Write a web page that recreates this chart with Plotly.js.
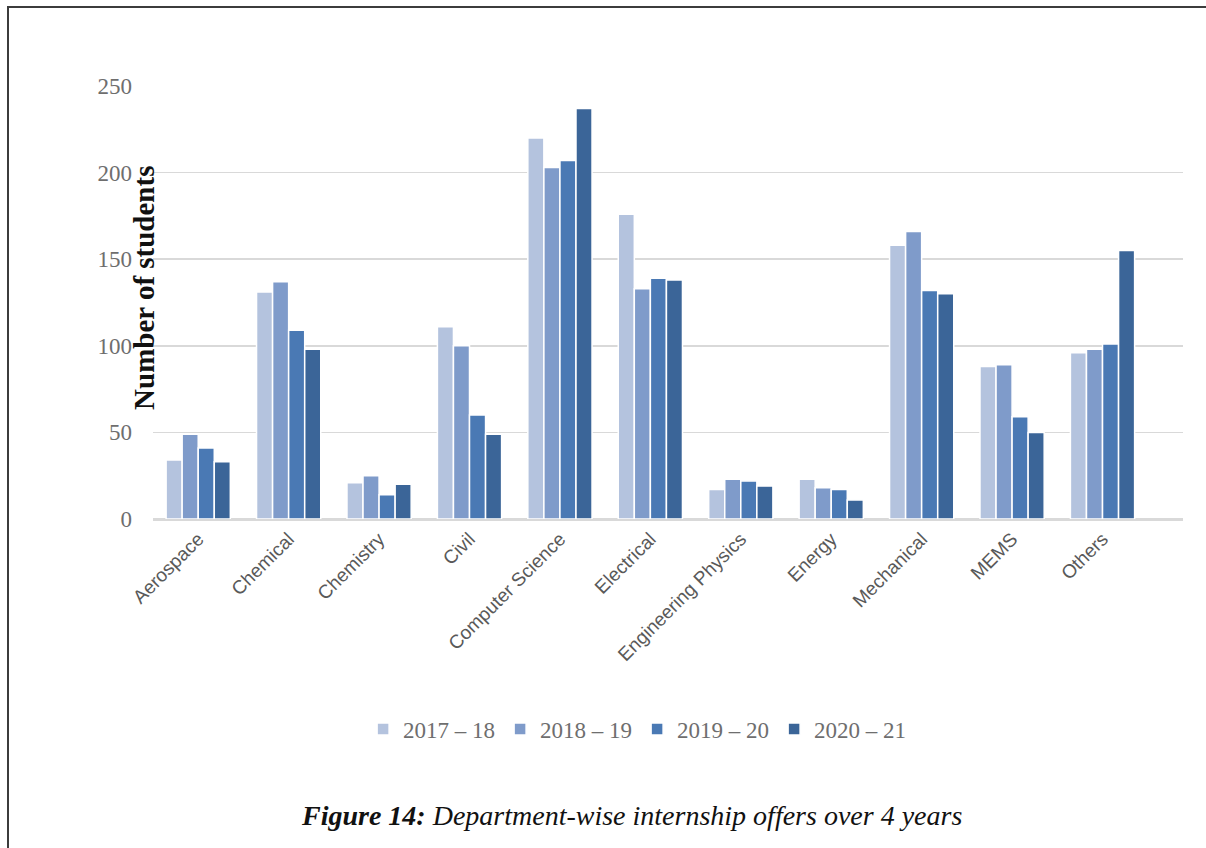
<!DOCTYPE html>
<html>
<head>
<meta charset="utf-8">
<script src="https://cdn.plot.ly/plotly-3.0.1.min.js"></script>
<style>
  html, body { margin: 0; padding: 0; background: #fff; }
  #wrap { position: relative; width: 1206px; height: 848px; }
  #chart { width: 1206px; height: 848px; }
  #frame { position: absolute; left: 7px; top: 6px; right: 0; bottom: 0;
           border-left: 2px solid #3c3c3c; border-top: 2px solid #3c3c3c; pointer-events: none; }
</style>
</head>
<body>
<div id="wrap">
  <div id="chart"></div>
  <div id="frame"></div>
</div>
<script>
const departments = ["Aerospace", "Chemical", "Chemistry", "Civil", "Computer Science",
  "Electrical", "Engineering Physics", "Energy", "Mechanical", "MEMS", "Others"];
const seriesNames = ["2017 – 18", "2018 – 19", "2019 – 20", "2020 – 21"];
const y2017 = [34, 131, 21, 111, 220, 176, 17, 23, 158, 88, 96];
const y2018 = [49, 137, 25, 100, 203, 133, 23, 18, 166, 89, 98];
const y2019 = [41, 109, 14, 60, 207, 139, 22, 17, 132, 59, 101];
const y2020 = [33, 98, 20, 49, 237, 138, 19, 11, 130, 50, 155];
const colors = ["#b4c3de", "#7f9bca", "#4a79b4", "#3b6598"];
const yTicks = [0, 50, 100, 150, 200, 250];

const allSeries = [y2017, y2018, y2019, y2020];
const traces = allSeries.map((vals, i) => ({
  type: "bar",
  name: seriesNames[i],
  x: departments,
  y: vals,
  marker: { color: colors[i], line: { color: "#ffffff", width: 1.5 } },
  hoverinfo: "x+y+name"
}));

const layout = {
  width: 1206, height: 848,
  margin: { l: 153, r: 23, t: 86, b: 329 },
  paper_bgcolor: "#ffffff", plot_bgcolor: "#ffffff",
  barmode: "group",
  bargap: 0.29,
  bargroupgap: 0,
  showlegend: true,
  legend: {
    orientation: "h", x: 0.47, xanchor: "center", y: -0.485, yanchor: "middle",
    font: { family: "Liberation Serif, serif", size: 23, color: "#6e6e6e" },
    itemwidth: 30, traceorder: "normal"
  },
  xaxis: {
    type: "category",
    range: [-0.5, 10.89],
    tickangle: -45,
    tickfont: { family: "Liberation Sans, Arial, sans-serif", size: 19, color: "#595959" },
    showgrid: false, showline: true, linecolor: "#d9d9d9", linewidth: 1.5,
    ticks: "", fixedrange: true
  },
  yaxis: {
    range: [0, 250],
    tickvals: yTicks,
    ticktext: yTicks.map(String),
    tickfont: { family: "Liberation Serif, serif", size: 23, color: "#6e6e6e" },
    ticklabelstandoff: 20,
    showgrid: true, gridcolor: "#d9d9d9", gridwidth: 1.5,
    zeroline: true, zerolinecolor: "#d9d9d9", zerolinewidth: 1.5,
    ticks: "", ticklen: 0, automargin: false, fixedrange: true
  },
  annotations: [
    {
      text: "<b>Number of students</b>",
      xref: "paper", yref: "paper", x: -0.009, y: 0.533,
      xanchor: "center", yanchor: "middle", textangle: -90, showarrow: false,
      font: { family: "Liberation Serif, serif", size: 29, color: "#111111" }
    },
    {
      text: "<b><i>Figure 14:</i></b><i> Department-wise internship offers over 4 years</i>",
      xref: "paper", yref: "paper", x: 0.465, y: -0.684,
      xanchor: "center", yanchor: "middle", showarrow: false,
      font: { family: "Liberation Serif, serif", size: 28, color: "#111111" }
    }
  ]
};

Plotly.newPlot("chart", traces, layout, { displayModeBar: false, staticPlot: true });
</script>
</body>
</html>
